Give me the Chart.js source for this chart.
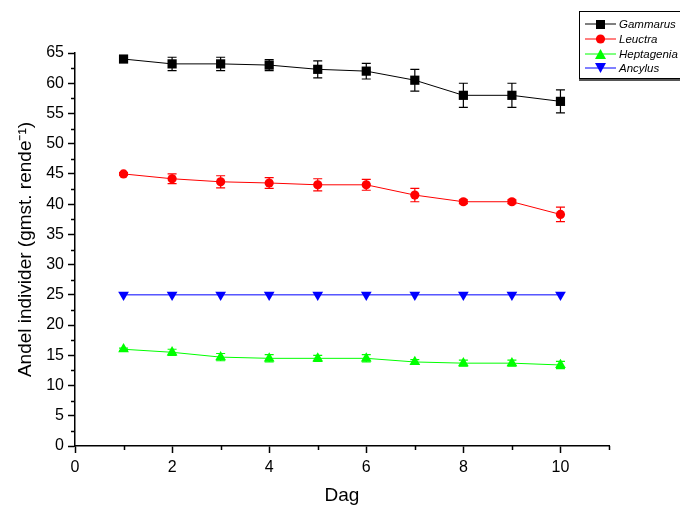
<!doctype html>
<html lang="no">
<head>
<meta charset="utf-8">
<title>Andel individer per dag</title>
<script src="https://cdn.jsdelivr.net/npm/chart.js"></script>
<style>
  html, body { margin: 0; padding: 0; background: #fff; }
  .wrap { position: relative; width: 680px; height: 509px; overflow: hidden; }
  #legend {
    position: absolute; left: 579px; top: 11px; width: 120px; height: 66px;
    border: 1px solid #000; box-shadow: 0 2px 0 #555; background: #fff;
    font: italic 11.5px "Liberation Sans", Arial, sans-serif; color: #000;
  }
  #legend .row { position: absolute; left: 5px; height: 14px; display: flex; align-items: center; }
  #legend svg { display: block; margin-right: 3px; }
</style>
</head>
<body>
<div class="wrap">
  <canvas id="chart" width="680" height="509"></canvas>
  <div id="legend"></div>
</div>
<script>
// days on the x axis
const days = [1, 2, 3, 4, 5, 6, 7, 8, 9, 10];

// mean share per species
const gammarus   = [64.0, 63.2, 63.2, 63.0, 62.3, 62.0, 60.5, 58.0, 58.0, 57.0];
const leuctra    = [45.0, 44.2, 43.7, 43.5, 43.2, 43.2, 41.5, 40.4, 40.4, 38.3];
const heptagenia = [16.0, 15.5, 14.7, 14.5, 14.5, 14.5, 13.9, 13.7, 13.7, 13.4];
const ancylus    = [25, 25, 25, 25, 25, 25, 25, 25, 25, 25];

// error bar half widths (+/-)
const gammarusErr   = [0.3, 1.1, 1.1, 0.9, 1.4, 1.3, 1.8, 2.0, 2.0, 1.9];
const leuctraErr    = [0.2, 0.8, 1.0, 0.9, 1.0, 0.9, 1.1, 0.3, 0.3, 1.2];
const heptageniaErr = [0.2, 0.5, 0.6, 0.6, 0.5, 0.6, 0.4, 0.5, 0.5, 0.6];
const ancylusErr    = [0, 0, 0, 0, 0, 0, 0, 0, 0, 0];

const yTicks = [0, 5, 10, 15, 20, 25, 30, 35, 40, 45, 50, 55, 60, 65];
const xTicks = [0, 2, 4, 6, 8, 10];

const series = [
  { name: 'Gammarus',   data: gammarus,   err: gammarusErr,   color: '#000000', style: 'rect',     radius: 6.5, rot: 0 },
  { name: 'Leuctra',    data: leuctra,    err: leuctraErr,    color: '#ff0000', style: 'circle',   radius: 4.6, rot: 0 },
  { name: 'Heptagenia', data: heptagenia, err: heptageniaErr, color: '#00ff00', style: 'triangle', radius: 6.2, rot: 0 },
  { name: 'Ancylus',    data: ancylus,    err: ancylusErr,    color: '#0000ff', style: 'triangle', radius: 6.2, rot: 180 }
];

const font = '"Liberation Sans", Arial, sans-serif';

// error bars with caps, drawn under the markers
const errorBars = {
  id: 'errorBars',
  beforeDatasetsDraw(chart) {
    const ctx = chart.ctx, x = chart.scales.x, y = chart.scales.y;
    ctx.save();
    ctx.lineWidth = 1.2;
    series.forEach(s => {
      ctx.strokeStyle = s.color;
      days.forEach((d, i) => {
        const e = s.err[i];
        if (!e) return;
        const px = x.getPixelForValue(d);
        const top = y.getPixelForValue(s.data[i] + e);
        const bot = y.getPixelForValue(s.data[i] - e);
        ctx.beginPath();
        ctx.moveTo(px, top); ctx.lineTo(px, bot);
        ctx.moveTo(px - 4.5, top); ctx.lineTo(px + 4.5, top);
        ctx.moveTo(px - 4.5, bot); ctx.lineTo(px + 4.5, bot);
        ctx.stroke();
      });
    });
    ctx.restore();
  }
};

// short minor ticks between the labelled ones
const minorTicks = {
  id: 'minorTicks',
  afterDraw(chart) {
    const ctx = chart.ctx, x = chart.scales.x, y = chart.scales.y;
    const area = chart.chartArea;
    ctx.save();
    ctx.strokeStyle = '#000';
    ctx.lineWidth = 1.5;
    ctx.beginPath();
    for (let v = 2.5; v < 65; v += 5) {
      const py = Math.round(y.getPixelForValue(v)) + 0.5;
      ctx.moveTo(area.left, py); ctx.lineTo(area.left - 4, py);
    }
    for (let v = 1; v <= 11; v += 2) {
      const px = Math.round(x.getPixelForValue(v)) + 0.5;
      ctx.moveTo(px, area.bottom); ctx.lineTo(px, area.bottom + 4);
    }
    ctx.stroke();
    ctx.restore();
  }
};

new Chart(document.getElementById('chart'), {
  type: 'line',
  data: {
    datasets: series.map(s => ({
      label: s.name,
      data: days.map((d, i) => ({ x: d, y: s.data[i] })),
      borderColor: s.color,
      backgroundColor: s.color,
      borderWidth: 1,
      pointStyle: s.style,
      pointRadius: s.radius,
      pointRotation: s.rot,
      pointBorderWidth: 0,
      pointHoverRadius: s.radius,
      tension: 0
    }))
  },
  options: {
    responsive: false,
    devicePixelRatio: 1,
    animation: false,
    layout: { padding: { top: 53, right: 71, bottom: 0, left: 0 } },
    plugins: { legend: { display: false }, tooltip: { enabled: false } },
    scales: {
      x: {
        type: 'linear',
        min: 0, max: 11,
        afterFit: s => { s.height = 63; },
        afterBuildTicks: s => { s.ticks = xTicks.map(v => ({ value: v })); },
        grid: { drawOnChartArea: false, tickLength: 7, tickWidth: 1.5, tickColor: '#000' },
        border: { color: '#000', width: 1.5 },
        ticks: { color: '#000', font: { family: font, size: 16 }, padding: 5, maxRotation: 0 },
        title: { display: true, text: 'Dag', color: '#000', font: { family: font, size: 19 }, padding: { top: 0, bottom: 2 } }
      },
      y: {
        min: 0, max: 65,
        afterFit: s => { s.width = 75; },
        afterBuildTicks: s => { s.ticks = yTicks.map(v => ({ value: v })); },
        grid: { drawOnChartArea: false, tickLength: 7, tickWidth: 1.5, tickColor: '#000' },
        border: { color: '#000', width: 1.5 },
        ticks: { color: '#000', font: { family: font, size: 16 }, padding: 4 },
        title: { display: true, text: 'Andel individer (gmst. rende\u207B\u00B9)', color: '#000', font: { family: font, size: 19 }, padding: { top: 14, bottom: 0 } }
      }
    }
  },
  plugins: [errorBars, minorTicks]
});

// legend box at top right, same look as the plotted series
const legend = document.getElementById('legend');
series.forEach((s, i) => {
  const row = document.createElement('div');
  row.className = 'row';
  row.style.top = (5 + i * 14.8) + 'px';
  let mark;
  if (s.style === 'rect') mark = `<rect x="11" y="3" width="9" height="9" fill="${s.color}"/>`;
  else if (s.style === 'circle') mark = `<circle cx="15.5" cy="7" r="4.6" fill="${s.color}"/>`;
  else if (s.rot) mark = `<polygon points="10,2 21,2 15.5,12" fill="${s.color}"/>`;
  else mark = `<polygon points="10,12 21,12 15.5,2" fill="${s.color}"/>`;
  row.innerHTML = `<svg width="31" height="14"><line x1="0" y1="7" x2="31" y2="7" stroke="${s.color}" stroke-width="1"/>${mark}</svg><span>${s.name}</span>`;
  legend.appendChild(row);
});
</script>
</body>
</html>
